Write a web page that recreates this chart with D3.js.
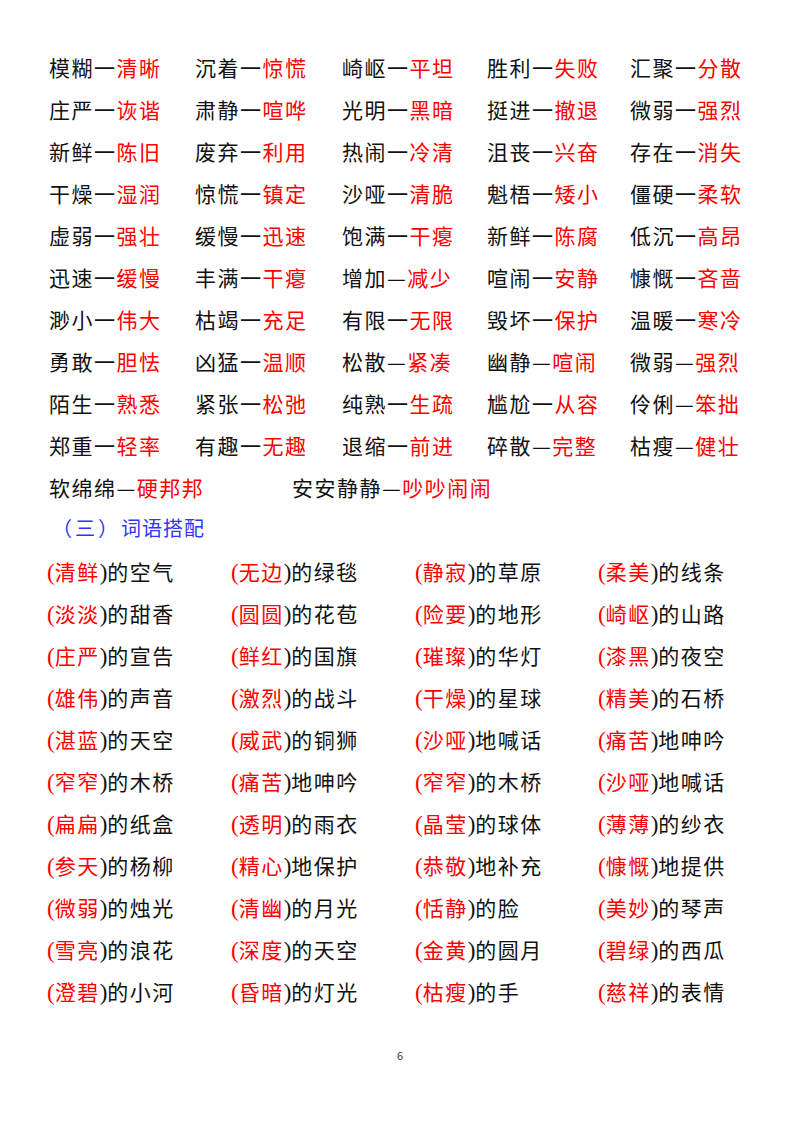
<!DOCTYPE html>
<html><head><meta charset="utf-8">
<script src="https://cdn.jsdelivr.net/npm/d3@7"></script>
<style>body{margin:0;background:#fff}</style>
</head><body>
<script>
// antonym rows: [left, sep, right]
const antonymRows = [
  [['模糊','一','清晰'],['沉着','一','惊慌'],['崎岖','一','平坦'],['胜利','一','失败'],['汇聚','一','分散']],
  [['庄严','一','诙谐'],['肃静','一','喧哗'],['光明','一','黑暗'],['挺进','一','撤退'],['微弱','一','强烈']],
  [['新鲜','一','陈旧'],['废弃','一','利用'],['热闹','一','冷清'],['沮丧','一','兴奋'],['存在','一','消失']],
  [['干燥','一','湿润'],['惊慌','一','镇定'],['沙哑','一','清脆'],['魁梧','一','矮小'],['僵硬','一','柔软']],
  [['虚弱','一','强壮'],['缓慢','一','迅速'],['饱满','一','干瘪'],['新鲜','一','陈腐'],['低沉','一','高昂']],
  [['迅速','一','缓慢'],['丰满','一','干瘪'],['增加','—','减少'],['喧闹','一','安静'],['慷慨','一','吝啬']],
  [['渺小','一','伟大'],['枯竭','一','充足'],['有限','一','无限'],['毁坏','一','保护'],['温暖','一','寒冷']],
  [['勇敢','一','胆怯'],['凶猛','一','温顺'],['松散','—','紧凑'],['幽静','—','喧闹'],['微弱','—','强烈']],
  [['陌生','一','熟悉'],['紧张','一','松弛'],['纯熟','一','生疏'],['尴尬','一','从容'],['伶俐','—','笨拙']],
  [['郑重','一','轻率'],['有趣','一','无趣'],['退缩','一','前进'],['碎散','—','完整'],['枯瘦','—','健壮']]
]
const antonymLast = [['软绵绵','—','硬邦邦'],['安安静静','—','吵吵闹闹']]
const sectionTitle = ['（', '三', '）', '词语搭配']
// collocations: [red word, rest]
const collocRows = [
  [['清鲜','的空气'],['无边','的绿毯'],['静寂','的草原'],['柔美','的线条']],
  [['淡淡','的甜香'],['圆圆','的花苞'],['险要','的地形'],['崎岖','的山路']],
  [['庄严','的宣告'],['鲜红','的国旗'],['璀璨','的华灯'],['漆黑','的夜空']],
  [['雄伟','的声音'],['激烈','的战斗'],['干燥','的星球'],['精美','的石桥']],
  [['湛蓝','的天空'],['威武','的铜狮'],['沙哑','地喊话'],['痛苦','地呻吟']],
  [['窄窄','的木桥'],['痛苦','地呻吟'],['窄窄','的木桥'],['沙哑','地喊话']],
  [['扁扁','的纸盒'],['透明','的雨衣'],['晶莹','的球体'],['薄薄','的纱衣']],
  [['参天','的杨柳'],['精心','地保护'],['恭敬','地补充'],['慷慨','地提供']],
  [['微弱','的烛光'],['清幽','的月光'],['恬静','的脸'],['美妙','的琴声']],
  [['雪亮','的浪花'],['深度','的天空'],['金黄','的圆月'],['碧绿','的西瓜']],
  [['澄碧','的小河'],['昏暗','的灯光'],['枯瘦','的手'],['慈祥','的表情']]
]
const pageNumber = '6'

const W = 800, H = 1132
const RED = '#ff0000', BLACK = '#111', BLUE = '#3333ff'
const svg = d3.select('body').append('svg').attr('width', W).attr('height', H)
const font = '"Noto Sans CJK SC", sans-serif'
const latin = '"Liberation Serif", serif'

const rowY = d3.scaleLinear().domain([0, 1]).range([76, 118])
const antX = d3.scaleOrdinal().domain(d3.range(5)).range([49, 195, 342, 487, 630])
const colX = d3.scaleOrdinal().domain(d3.range(4)).range([47, 231, 415, 598])

// parts: [text, colour, latin?]
function addText(sel, x, y, parts) {
  const t = sel.append('text').attr('x', x).attr('y', y)
    .attr('font-family', font).attr('font-size', 21).attr('letter-spacing', 1.5)
  parts.forEach(p => {
    const s = t.append('tspan').attr('fill', p[1]).text(p[0])
    if (p[2]) s.attr('font-family', latin).attr('font-size', 23).attr('letter-spacing', 0)
  })
  return t
}

const g = svg.append('g')
antonymRows.forEach((row, i) => {
  row.forEach((d, j) => {
    addText(g, antX(j), rowY(i), [[d[0], BLACK], [d[1], BLACK], [d[2], RED]])
  })
})
const lastX = [49, 292]
antonymLast.forEach((d, j) => {
  addText(g, lastX[j], rowY(10), [[d[0], BLACK], [d[1], BLACK], [d[2], RED]])
})

const title = svg.append('text').attr('x', 52).attr('y', 536)
  .attr('font-family', font).attr('font-size', 20).attr('fill', BLUE)
title.append('tspan').attr('letter-spacing', 3).text(sectionTitle.slice(0, 3).join(''))
title.append('tspan').attr('letter-spacing', 1).text(sectionTitle[3])

const cy = d3.scaleLinear().domain([0, 1]).range([580, 622])
collocRows.forEach((row, i) => {
  row.forEach((d, j) => {
    addText(g, colX(j), cy(i), [['(', RED, true], [d[0], RED], [')', BLACK, true], [d[1], BLACK]])
  })
})

svg.append('text').attr('x', 400).attr('y', 1060).attr('text-anchor', 'middle')
  .attr('font-family', font).attr('font-size', 11).attr('fill', '#333').text(pageNumber)
</script>
</body></html>
